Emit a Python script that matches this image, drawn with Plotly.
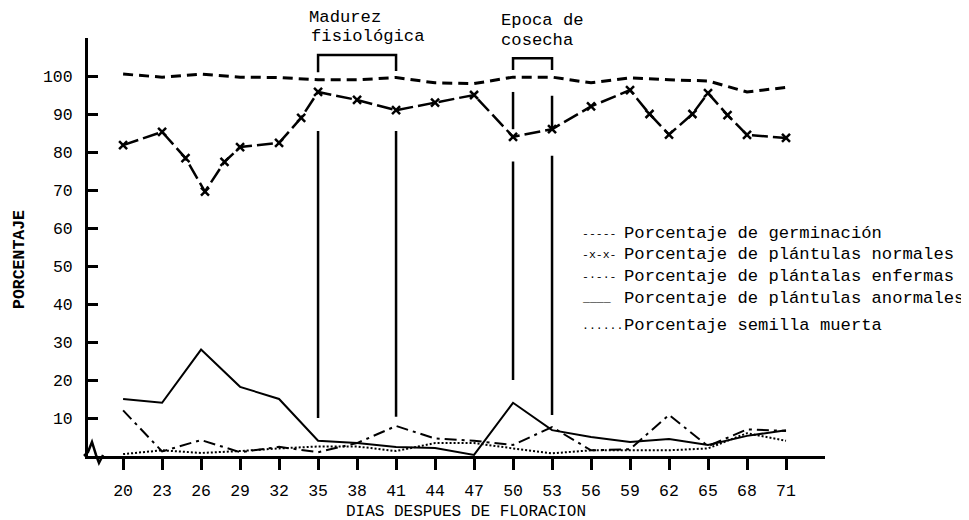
import plotly.graph_objects as go

# ---------------- data ----------------
dias = [20, 23, 26, 29, 32, 35, 38, 41, 44, 47, 50, 53, 56, 59, 62, 65, 68, 71]
germinacion = [100.5, 99.7, 100.5, 99.7, 99.6, 99.0, 99.0, 99.6, 98.2, 98.0, 99.7, 99.7, 98.2, 99.5, 99.0, 98.7, 95.8, 97.0]

dias_normales = [20, 23, 24.8, 26.3, 27.8, 29, 32, 33.7, 35, 38, 41, 44, 47, 50, 53, 56, 59, 60.5, 62, 63.8, 65, 66.5, 68, 71]
normales = [81.8, 85.3, 78.4, 69.6, 77.4, 81.3, 82.4, 89.0, 95.8, 93.7, 91.0, 93.0, 95.0, 84.0, 86.0, 92.0, 96.3, 90.0, 84.6, 90.0, 95.5, 89.7, 84.5, 83.7]

enfermas = [12.0, 1.2, 4.2, 1.0, 2.4, 1.0, 3.4, 7.9, 4.6, 4.0, 2.9, 7.6, 1.5, 1.8, 10.8, 2.6, 7.0, 6.6]
anormales = [15.0, 14.0, 28.0, 18.2, 15.0, 4.0, 3.4, 2.4, 2.1, 0.3, 14.0, 6.8, 5.0, 3.7, 4.5, 2.9, 5.3, 6.8]
muerta = [0.5, 1.5, 0.8, 1.3, 2.0, 2.5, 2.5, 1.3, 3.4, 3.4, 2.0, 0.7, 1.5, 1.5, 1.5, 2.0, 6.0, 4.0]

y_ticks = [10, 20, 30, 40, 50, 60, 70, 80, 90, 100]

legend_samples = ["-----", "-x-x-", "-·-·-", "____", "......"]
legend_texts = [
    "Porcentaje de germinación",
    "Porcentaje de plántulas normales",
    "Porcentaje de plántalas enfermas",
    "Porcentaje de plántulas anormales",
    "Porcentaje semilla muerta",
]

# ---------------- layout geometry ----------------
# page body has an 8px margin, so the figure is drawn 8px right/down
OFF = 8
W, H = 961, 512
L, R, T, B = 80, 144, 30, 64
X0, X1 = 17.3, 74.0
Y0, Y1 = 0, 110
FONT = "Liberation Mono, Courier New, monospace"


def px_x(px):
    return (px - OFF - L) / (W - L - R)


def px_y(py):
    return (H - B - (py - OFF)) / (H - T - B)


fig = go.Figure()

fig.add_trace(go.Scatter(x=dias, y=germinacion, mode="lines",
                         line=dict(color="black", width=3, dash="10px,6px")))
fig.add_trace(go.Scatter(x=dias_normales, y=normales, mode="lines+markers",
                         line=dict(color="black", width=2.5, dash="16px,5px"),
                         marker=dict(symbol="x-thin", size=8, line=dict(color="black", width=2.5))))
fig.add_trace(go.Scatter(x=dias, y=enfermas, mode="lines",
                         line=dict(color="black", width=2, dash="12px,5px,3px,5px")))
fig.add_trace(go.Scatter(x=dias, y=anormales, mode="lines",
                         line=dict(color="black", width=2)))
fig.add_trace(go.Scatter(x=dias, y=muerta, mode="lines",
                         line=dict(color="black", width=2, dash="2px,2px")))

shapes = []
lw = dict(color="black", width=2.5)
# vertical indicator lines
for x, y_top, y_bot in [(35, 85.5, 10), (41, 85.5, 10.3), (50, 77.5, 20), (53, 79, 10.8),
                        (50, 95.8, 86.0), (53, 94.8, 86.3)]:
    shapes.append(dict(type="line", xref="x", yref="y", x0=x, x1=x, y0=y_bot, y1=y_top, line=lw))
# brackets
shapes.append(dict(type="path", xref="x", yref="y",
                   path="M 35 101 L 35 105.5 L 41 105.5 L 41 101.3", line=lw))
shapes.append(dict(type="path", xref="x", yref="y",
                   path="M 50 101.6 L 50 104.7 L 53 104.7 L 53 101.6", line=lw))
# hand-drawn squiggle at origin
sq = [(84, 456), (88, 452), (92, 442), (96, 455), (99, 463), (103, 455)]
path = "M " + " L ".join(f"{px_x(a):.4f} {px_y(b):.4f}" for a, b in sq)
shapes.append(dict(type="path", xref="paper", yref="paper", path=path,
                   line=dict(color="black", width=2.5)))

ann = []
tf = dict(family=FONT, size=17.2, color="black")
ann += [
    dict(text="Madurez", x=px_x(307), y=px_y(18)),
    dict(text="fisiológica", x=px_x(309), y=px_y(37)),
    dict(text="Epoca de", x=px_x(499), y=px_y(20)),
    dict(text="cosecha", x=px_x(499), y=px_y(41)),
]
leg_y = [233, 254, 276, 298, 325]
for s, t, yy in zip(legend_samples, legend_texts, leg_y):
    ann.append(dict(text=s, x=px_x(580), y=px_y(yy), font=dict(family=FONT, size=11.5, color="black")))
    ann.append(dict(text=t, x=px_x(622), y=px_y(yy)))
ann.append(dict(text="DIAS DESPUES DE FLORACION", x=px_x(466), y=px_y(501),
                xanchor="center", yanchor="top", font=dict(family=FONT, size=16, color="black")))
ann.append(dict(text="<b>PORCENTAJE</b>", x=px_x(19), y=px_y(260), textangle=-90,
                xanchor="center", yanchor="middle", font=dict(family=FONT, size=16.5, color="black")))
for a in ann:
    a.setdefault("xref", "paper")
    a.setdefault("yref", "paper")
    a.setdefault("xanchor", "left")
    a.setdefault("yanchor", "middle")
    a.setdefault("font", tf)
    a["showarrow"] = False

fig.update_layout(
    width=W, height=H,
    margin=dict(l=L, r=R, t=T, b=B),
    plot_bgcolor="white", paper_bgcolor="white",
    showlegend=False,
    shapes=shapes, annotations=ann,
    font=dict(family=FONT, color="black"),
)
fig.update_xaxes(range=[X0, X1], showgrid=False, zeroline=False,
                 showline=True, linecolor="black", linewidth=2.5,
                 tickmode="array", tickvals=dias, ticktext=[str(d) for d in dias],
                 ticks="outside", ticklen=11, tickwidth=2.5, tickcolor="black",
                 ticklabelstandoff=6, tickfont=dict(family=FONT, size=16.5, color="black"))
fig.update_yaxes(range=[Y0, Y1], showgrid=False, zeroline=False,
                 showline=True, linecolor="black", linewidth=3,
                 tickmode="array", tickvals=y_ticks, ticktext=[str(v) for v in y_ticks],
                 ticks="inside", ticklen=10, tickwidth=2.5, tickcolor="black",
                 ticklabelstandoff=9, tickfont=dict(family=FONT, size=16.5, color="black"))

fig.write_html("out.html")
